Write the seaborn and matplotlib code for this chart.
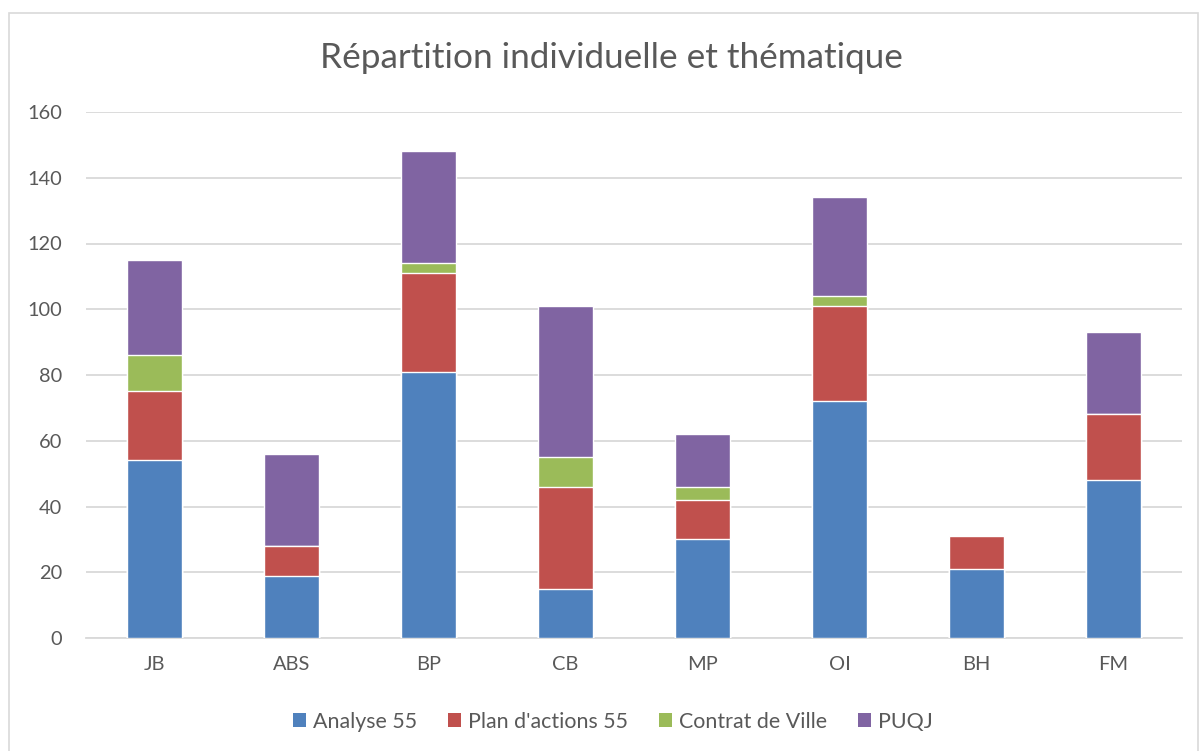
import numpy as np
import pandas as pd
import seaborn as sns
import matplotlib.pyplot as plt
from matplotlib.patches import Patch, Rectangle

# === DATA ===
people = ["JB", "ABS", "BP", "CB", "MP", "OI", "BH", "FM"]
analyse_55 = [54, 19, 81, 15, 30, 72, 21, 48]
plan_actions_55 = [21, 9, 30, 31, 12, 29, 10, 20]
contrat_ville = [11, 0, 3, 9, 4, 3, 0, 0]
puqj = [29, 28, 34, 46, 16, 30, 0, 25]

series_names = ["Analyse 55", "Plan d'actions 55", "Contrat de Ville", "PUQJ"]
colors = ["#4F81BD", "#C0504D", "#9BBB59", "#8064A2"]

# cumulative heights so the layers can be drawn back to front
layers = np.array([analyse_55, plan_actions_55, contrat_ville, puqj])
cum = layers.cumsum(axis=0)
df = pd.DataFrame({"who": people})
for name, row in zip(series_names, cum):
    df[name] = row

# === STYLE ===
sns.set_theme(style="white")
plt.rcParams['font.family'] = ['Lato', 'DejaVu Sans']
text_gray = "#595959"

fig = plt.figure(figsize=(12.01, 7.51), dpi=100)
ax = fig.add_axes([86 / 1201, 113 / 751, (1182 - 86) / 1201, (638 - 112) / 751])

# outer chart frame
fig.patches.append(Rectangle((9 / 1201, -0.01), (1198 - 9) / 1201, (751 - 13) / 751 + 0.01,
                             transform=fig.transFigure, fill=False,
                             edgecolor="#D9D9D9", linewidth=1.2))

# === BARS (largest cumulative first) ===
for name, col in zip(series_names[::-1], colors[::-1]):
    sns.barplot(data=df, x="who", y=name, color=col, width=0.4,
                saturation=1, ax=ax, zorder=3)

ax.set_ylim(0, 160)
ax.set_yticks(range(0, 161, 20))
ax.set_xlim(-0.5, len(people) - 0.5)
ax.yaxis.grid(True, color="#D9D9D9", linewidth=1.3, zorder=0)
ax.set_axisbelow(True)
for s in ["top", "right", "left"]:
    ax.spines[s].set_visible(False)
ax.spines["bottom"].set_color("#D9D9D9")
ax.spines["bottom"].set_linewidth(1.3)
ax.set_xlabel("")
ax.set_ylabel("")
ax.tick_params(axis="both", length=0, labelsize=14.4, labelcolor=text_gray)
ax.tick_params(axis="x", pad=13)
ax.tick_params(axis="y", pad=17)

fig.text(0.509, 0.923, "Répartition individuelle et thématique",
         ha="center", va="center", fontsize=25.3, color=text_gray)

handles = [Patch(facecolor=c, edgecolor="none") for c in colors]
fig.legend(handles, series_names, loc="center", bbox_to_anchor=(0.51, 0.039),
           ncol=4, frameon=False, fontsize=15.4, labelcolor=text_gray,
           handlelength=0.63, handleheight=0.63, handletextpad=0.3, columnspacing=1.45)

plt.savefig("out.png", dpi=100)
